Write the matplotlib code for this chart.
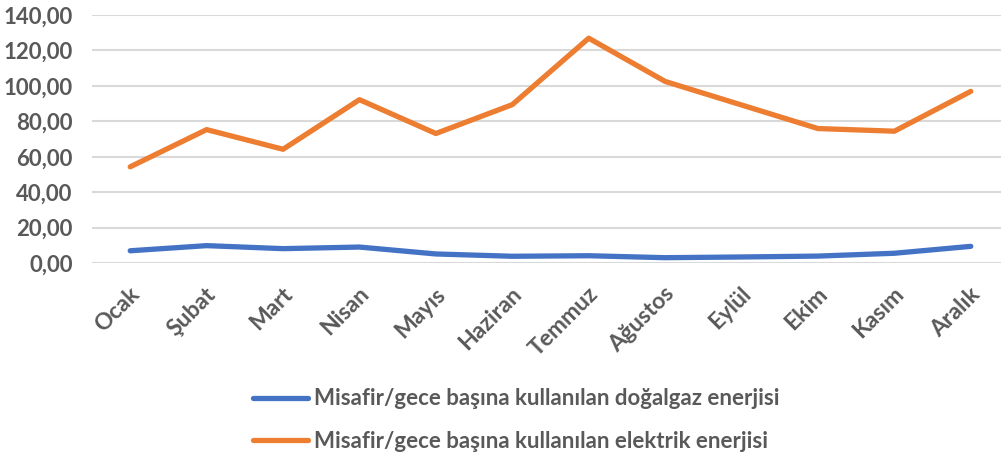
import matplotlib
matplotlib.use("Agg")
import matplotlib.pyplot as plt
import matplotlib.transforms as mtransforms
from matplotlib.ticker import FuncFormatter

months = ["Ocak", "Şubat", "Mart", "Nisan", "Mayıs", "Haziran",
          "Temmuz", "Ağustos", "Eylül", "Ekim", "Kasım", "Aralık"]
dogalgaz = [6.9, 9.8, 8.1, 9.0, 5.1, 3.8, 4.1, 3.0, 3.4, 3.9, 5.5, 9.4]
elektrik = [54.3, 75.3, 64.2, 92.2, 73.1, 89.4, 126.9, 102.5, 89.2, 75.9, 74.4, 96.9]
labels = ["Misafir/gece başına kullanılan doğalgaz enerjisi",
          "Misafir/gece başına kullanılan elektrik enerjisi"]

plt.rcParams["font.family"] = ["Lato", "DejaVu Sans"]
plt.rcParams["font.weight"] = "bold"

fig = plt.figure(figsize=(10.01, 4.61), dpi=100)
ax = fig.add_axes([92 / 1001, 1 - 263 / 461, 917 / 1001, 248 / 461])

x = range(len(months))
ax.plot(x, dogalgaz, color="#4472C4", lw=3.8, solid_capstyle="round", label=labels[0])
ax.plot(x, elektrik, color="#ED7D31", lw=3.8, solid_capstyle="round", label=labels[1])

ax.set_xlim(-0.5, 11.5)
ax.set_ylim(0, 140)
ax.set_yticks(range(0, 141, 20))
ax.yaxis.set_major_formatter(FuncFormatter(lambda v, p: f"{v:.2f}".replace(".", ",")))
ax.grid(axis="y", color="#D9D9D9", lw=1.5)
ax.set_axisbelow(True)
for s in ax.spines.values():
    s.set_visible(False)
ax.tick_params(length=0, colors="#595959", labelsize=16.5)
ax.tick_params(axis="y", labelsize=16, pad=14)
ax.tick_params(axis="x", pad=20)
ax.set_xticks(list(x))
ax.set_xticklabels(months, rotation=45, ha="right", va="center", rotation_mode="anchor")
shift = mtransforms.ScaledTranslation(6 / 100, 0, fig.dpi_scale_trans)
for t in ax.get_xticklabels():
    t.set_transform(t.get_transform() + shift)
for t in ax.get_xticklabels() + ax.get_yticklabels():
    t.set_fontweight("bold")

fig.legend(loc="center", bbox_to_anchor=(516 / 1001, 1 - 420 / 461), ncol=1,
           frameon=False, handlelength=2.5, handletextpad=0.25, labelspacing=0.95,
           prop={"size": 16, "weight": "bold"}, labelcolor="#595959")

fig.savefig("out.png", dpi=100)
